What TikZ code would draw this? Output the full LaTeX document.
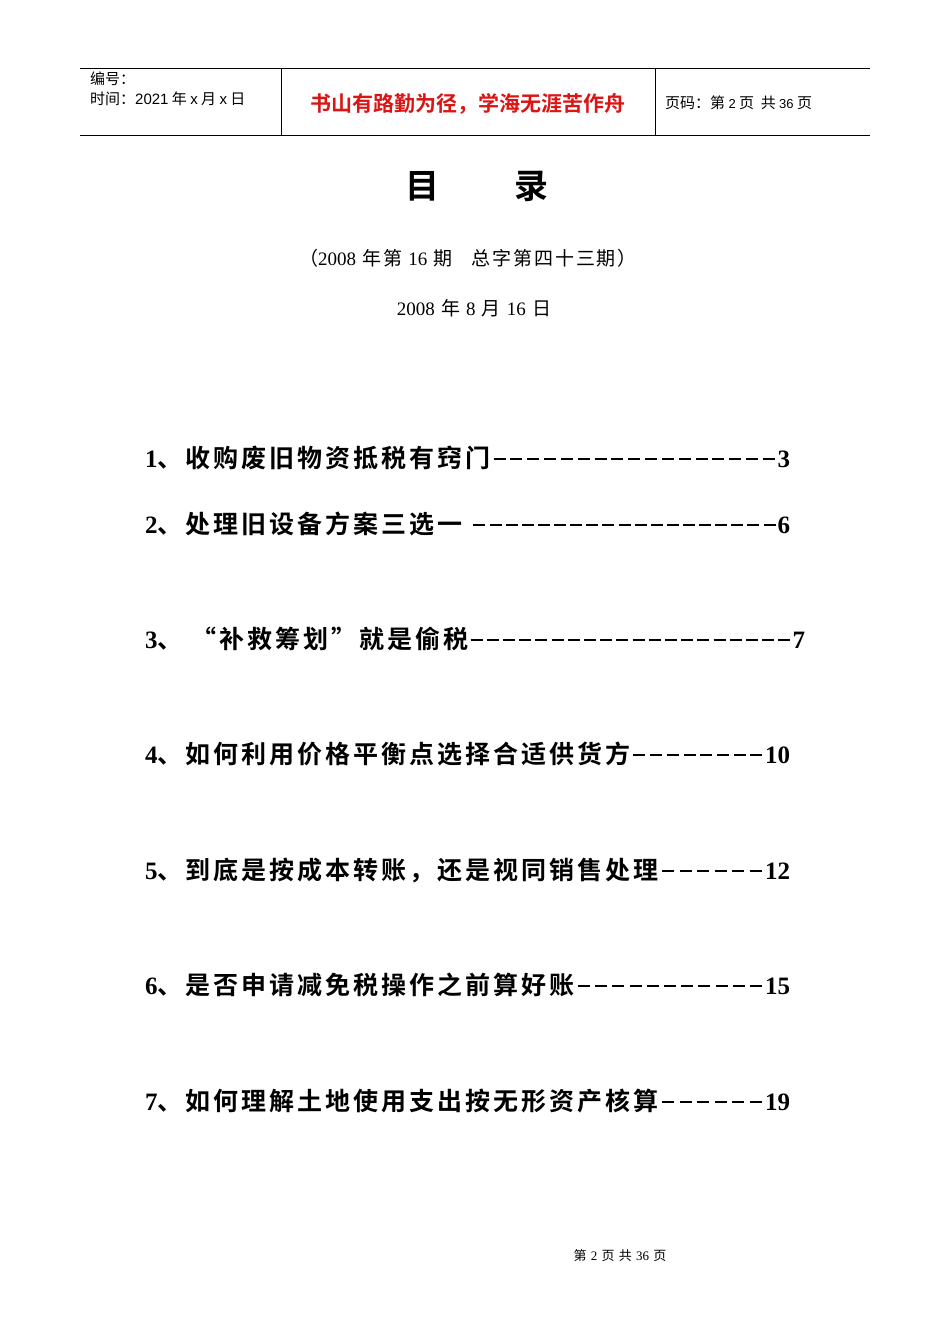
\documentclass[tikz,border=0pt]{standalone}
\usepackage{fontspec}
\setmainfont{Liberation Serif}
\newfontfamily\cjk{Noto Sans CJK SC}
\newfontfamily\cjkw{Noto Sans CJK SC}[LetterSpace=12,BoldFont=* Bold]
\newfontfamily\cjks{Noto Sans CJK SC}[LetterSpace=10]
\newfontfamily\hei{Noto Sans CJK SC}[BoldFont=* Bold]
\newfontfamily\arial{Liberation Sans}
\definecolor{hdred}{RGB}{220,20,20}
\newcommand\dsh{\hbox{\kern2pt\vrule width 12pt height 9.5pt depth -7.5pt\kern2pt}}
\begin{document}
\begin{tikzpicture}[x=1pt,y=-1pt,
  hdr/.style={anchor=west,inner sep=0pt,font=\fontsize{15}{17}\selectfont\cjk},
  toc/.style={anchor=west,inner sep=0pt,font=\fontsize{25}{28}\selectfont\bfseries\cjkw}]
\useasboundingbox[fill=white] (0,0) rectangle (950,1344);
\draw[line width=0.8pt] (80,68) coordinate(a) -- (870,68) coordinate(b);
\draw[line width=0.8pt] (80,135) -- (870,135);
\draw[line width=0.8pt] (281,68) -- (281,135);
\draw[line width=0.8pt] (655,68) -- (655,135);
\node[hdr] (h1) at (90,79) {编号：};
\node[hdr] (h2) at (90,99) {时间：{\arial 2021} 年 {\arial x} 月 {\arial x} 日};
\node[inner sep=0pt,font=\fontsize{21}{23}\selectfont\bfseries\hei,text=hdred] (h3) at (468,104) {书山有路勤为径，学海无涯苦作舟};
\node[hdr] (h4) at (665,103) {页码：第 {\arial\fontsize{13}{14}\selectfont 2} 页\ \ 共 {\arial\fontsize{13}{14}\selectfont 36} 页};
\node[inner sep=0pt,font=\fontsize{34}{38}\selectfont\bfseries\hei] (t) at (477,186) {目\hspace{2.2em}录};
\node[inner sep=0pt,font=\fontsize{19}{22}\selectfont\cjks] (s1) at (468,258) {（{\rmfamily 2008} 年第 {\rmfamily 16} 期\quad 总字第四十三期）};
\node[inner sep=0pt,font=\fontsize{19}{22}\selectfont\cjks] (s2) at (474,308) {{\rmfamily 2008} 年 {\rmfamily 8} 月 {\rmfamily 16} 日};
\node[toc] (e1) at (145,458) {\hbox to 645pt{{\rmfamily 1}、收购废旧物资抵税有窍门\xleaders\dsh\hfill{\rmfamily 3}}};
\node[toc] (e2) at (145,524) {\hbox to 645pt{{\rmfamily 2}、处理旧设备方案三选一\ \xleaders\dsh\hfill{\rmfamily 6}}};
\node[toc] (e3) at (145,639) {\hbox to 660pt{{\rmfamily 3}、\ “补救筹划”就是偷税\xleaders\dsh\hfill{\rmfamily 7}}};
\node[toc] (e4) at (145,754) {\hbox to 645pt{{\rmfamily 4}、如何利用价格平衡点选择合适供货方\xleaders\dsh\hfill{\rmfamily 10}}};
\node[toc] (e5) at (145,870) {\hbox to 645pt{{\rmfamily 5}、到底是按成本转账，还是视同销售处理\xleaders\dsh\hfill{\rmfamily 12}}};
\node[toc] (e6) at (145,985) {\hbox to 645pt{{\rmfamily 6}、是否申请减免税操作之前算好账\xleaders\dsh\hfill{\rmfamily 15}}};
\node[toc] (e7) at (145,1101) {\hbox to 645pt{{\rmfamily 7}、如何理解土地使用支出按无形资产核算\xleaders\dsh\hfill{\rmfamily 19}}};
\node[inner sep=0pt,font=\fontsize{13}{15}\selectfont\cjks] (f) at (620,1256) {第 {\rmfamily 2} 页 共 {\rmfamily 36} 页};
\end{tikzpicture}
\end{document}
